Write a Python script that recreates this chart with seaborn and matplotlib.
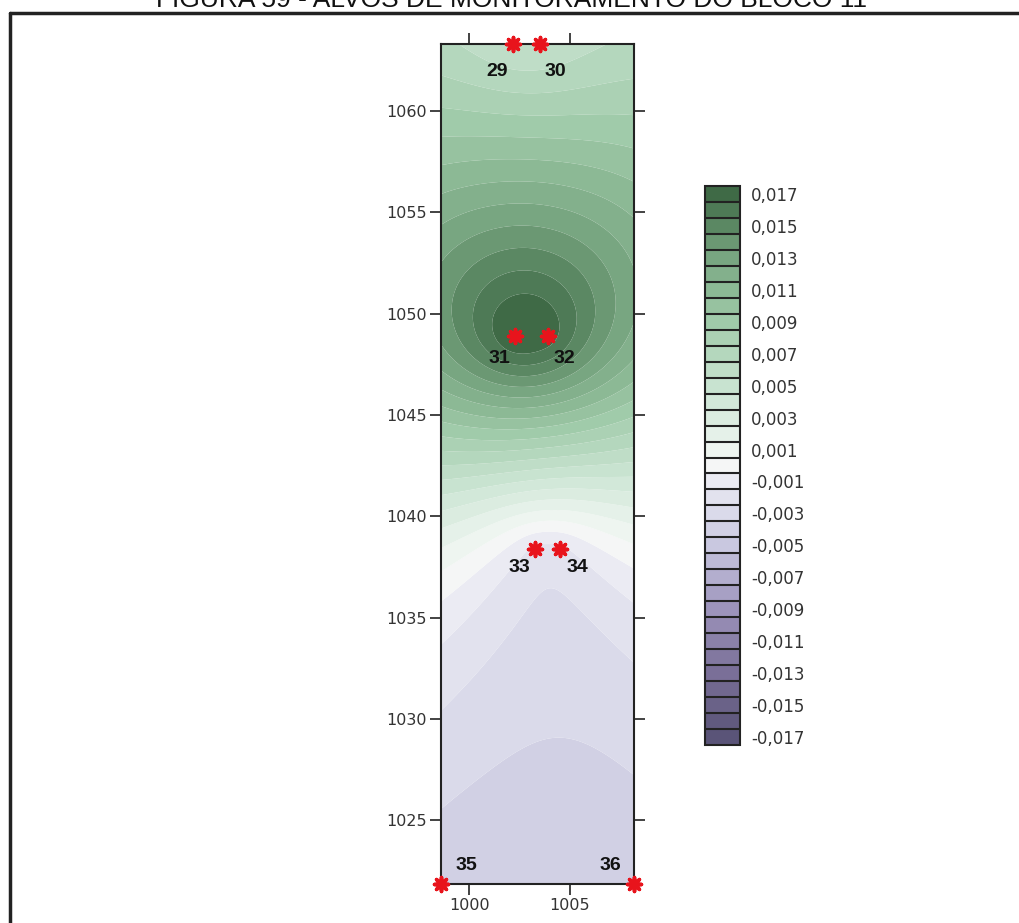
import numpy as np
import matplotlib
matplotlib.use("Agg")
import matplotlib.pyplot as plt
import seaborn as sns
from matplotlib.colors import LinearSegmentedColormap, BoundaryNorm
from matplotlib.lines import Line2D

# --- data: monitoring targets (coordinates and displacement values) ---
target_ids = ["29", "30", "31", "32", "33", "34", "35", "36"]
target_x = [1002.2, 1003.5, 1002.3, 1003.9, 1003.3, 1004.5, 998.6, 1008.2]
target_y = [1063.3, 1063.3, 1048.9, 1048.9, 1038.4, 1038.4, 1021.86, 1021.86]
target_val = [0.0055, 0.0055, 0.0178, 0.0172, -0.0018, -0.0018, -0.0041, -0.0041]

x_ticks = [1000, 1005]
y_ticks = [1025, 1030, 1035, 1040, 1045, 1050, 1055, 1060]
cbar_ticks = [round(-0.017 + 0.002 * i, 3) for i in range(18)]

x_range = (998.6, 1008.2)
y_range = (1021.86, 1063.3)

# label offsets in pixels (dx, dy) relative to each target
label_offsets = [(-16, -28), (16, -28), (-16, -23), (17, -23),
                 (-16, -19), (18, -19), (25, 18), (-24, 18)]

# --- interpolate the field (linear RBF, similar to linear-variogram kriging) ---
px = np.array(target_x)
py = np.array(target_y)
pv = np.array(target_val)
n = len(px)
d = np.hypot(px[:, None] - px[None, :], py[:, None] - py[None, :])
A = np.zeros((n + 1, n + 1))
A[:n, :n] = d
A[:n, n] = 1
A[n, :n] = 1
sol = np.linalg.solve(A, np.append(pv, 0.0))
w, c = sol[:n], sol[n]

gx = np.linspace(*x_range, 200)
gy = np.linspace(*y_range, 800)
GX, GY = np.meshgrid(gx, gy)
dist = np.hypot(GX[..., None] - px, GY[..., None] - py)
Z = dist @ w + c

# --- colours ---
anchors = [(-0.017, "#5a5478"), (-0.013, "#7a6f98"), (-0.009, "#9d94bb"),
           (-0.005, "#c9c8e0"), (-0.001, "#ebebf3"), (0.0, "#f6f7f6"),
           (0.001, "#eef5f0"), (0.005, "#c8e3d0"), (0.009, "#a0cbaa"),
           (0.013, "#78a681"), (0.017, "#3f6a46")]
vmin, vmax = -0.017, 0.017
cmap = LinearSegmentedColormap.from_list(
    "greenpurple", [((v - vmin) / (vmax - vmin), col) for v, col in anchors])
levels = np.round(np.arange(-0.0175, 0.0176, 0.001), 4)
norm = BoundaryNorm(levels, 256)

sns.set_style("white")
plt.rcParams["font.family"] = ["DejaVu Sans"]

fig = plt.figure(figsize=(10.2, 9.23), dpi=100)
W, H = 1020, 923
ax = fig.add_axes([441 / W, 1 - 884 / H, (634 - 441) / W, (884 - 44) / H])

cs = ax.contourf(GX, GY, np.clip(Z, -0.0175, 0.0175), levels=levels,
                 cmap=cmap, norm=norm, antialiased=True)
ax.set_xlim(*x_range)
ax.set_ylim(*y_range)

ax.set_xticks(x_ticks)
ax.set_yticks(y_ticks)
ax.tick_params(direction="out", length=8, width=1.2, color="#222222",
               pad=2, labelsize=11.5, labelcolor="#333333",
               top=True, right=True, bottom=True, left=True,
               labeltop=False, labelright=False)
for sp in ax.spines.values():
    sp.set_color("#222222")
    sp.set_linewidth(1.5)

sns.scatterplot(x=target_x, y=target_y, ax=ax, marker=(8, 2, 0), s=100,
                color="#e8141c", linewidth=2.6, clip_on=False, zorder=5,
                legend=False)
for tid, tx, ty, (dx, dy) in zip(target_ids, target_x, target_y, label_offsets):
    ax.annotate(tid, (tx, ty), xytext=(dx * 0.72, dy * 0.72),
                textcoords="offset points", ha="center", va="center",
                fontsize=14, fontweight="bold", color="#111111",
                family="Liberation Sans", annotation_clip=False, zorder=6)

# --- colour bar ---
cax = fig.add_axes([705 / W, 1 - 745 / H, 35 / W, (745 - 186) / H])
cb = fig.colorbar(cs, cax=cax, ticks=cbar_ticks, drawedges=True)
cb.ax.minorticks_off()
cb.outline.set_edgecolor("#222222")
cb.outline.set_linewidth(1.5)
cb.dividers.set_color("#222222")
cb.dividers.set_linewidth(1.5)
cb.ax.tick_params(length=0, pad=8, labelsize=12, labelcolor="#333333")
cb.ax.set_yticklabels([f"{v:.3f}".replace(".", ",") for v in cbar_ticks])

# --- page frame and (partly cut) title ---
fig.add_artist(Line2D([10 / W, 10 / W], [0, 1 - 13 / H], color="#222222",
                      lw=2.5, transform=fig.transFigure))
fig.add_artist(Line2D([10 / W, 1], [1 - 13 / H, 1 - 13 / H], color="#222222",
                      lw=2.5, transform=fig.transFigure))
fig.text(512 / W, 1 - 7 / H, "FIGURA 59 - ALVOS DE MONITORAMENTO DO BLOCO 11",
         ha="center", va="baseline", fontsize=19, color="#111111",
         family="Liberation Sans")

fig.savefig("out.png", dpi=100)
